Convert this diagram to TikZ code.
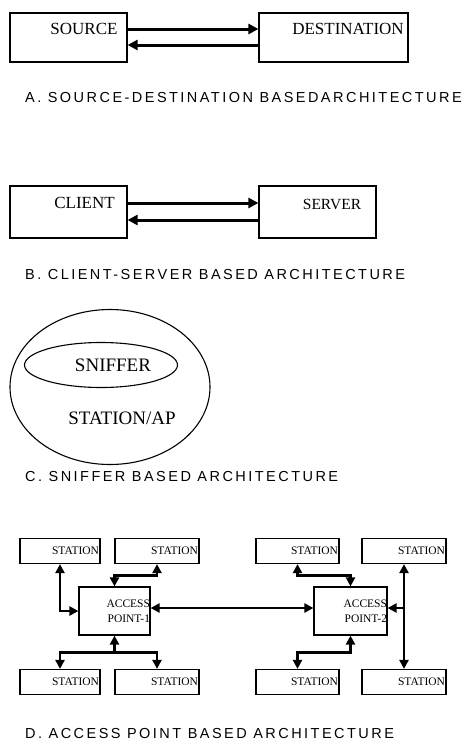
\documentclass[tikz,border=0pt]{standalone}
\usepackage{fontspec}
\setmainfont{Liberation Serif}
\newfontfamily\capfont{Liberation Sans}[LetterSpace=17]
\usetikzlibrary{arrows.meta,shapes.geometric}
\begin{document}
\begin{tikzpicture}[x=1pt,y=-1pt]
        \tikzstyle{every node}=[inner sep=0pt]
        \tikzstyle{box}=[draw, line width=1.2pt, rectangle]
        \tikzstyle{oval}=[draw, line width=1.1pt, ellipse]
        \tikzstyle{big}=[font=\fontsize{17}{19}\selectfont]
        \tikzstyle{huge}=[font=\fontsize{19}{21}\selectfont]
        \tikzstyle{stbox}=[box, font=\fontsize{11.5}{15}\selectfont, align=right, text width=78pt, inner xsep=1pt, minimum height=25pt]
        \tikzstyle{apbox}=[box, font=\fontsize{11.5}{15}\selectfont, align=right, text width=71pt, minimum height=48pt]
        \tikzstyle{caption}=[anchor=west, font=\capfont\fontsize{14.5}{16}\selectfont]
        \tikzstyle{link}=[line width=3pt, -{Triangle[length=10pt,width=10pt]}]
        \tikzstyle{dlink}=[line width=2.8pt, {Triangle[length=9pt,width=9pt]}-{Triangle[length=9pt,width=9pt]}]
        \tikzstyle{tail}=[line width=2.8pt, {Triangle[length=9pt,width=9pt]}-]
        \tikzstyle{head}=[line width=2.8pt, -{Triangle[length=9pt,width=9pt]}]
        \useasboundingbox (0,0) rectangle (470,747);
        % A. source - destination
        \node[box, minimum width=117pt, minimum height=49pt] (src) at (68.5,37.5) {};
        \node[big] (srclbl) at (84,29) {SOURCE};
        \node[box, minimum width=149pt, minimum height=49pt] (dst) at (333.5,37.5) {};
        \node[big] (dstlbl) at (348,29) {DESTINATION};
        \draw[link] ([yshift=8.5pt]src.east) -- ([yshift=8.5pt]dst.west);
        \draw[link] ([yshift=-7.5pt]dst.west) -- ([yshift=-7.5pt]src.east);
        \node[caption] (capa) at (25,98) {A. SOURCE-DESTINATION BASEDARCHITECTURE};
        % B. client - server
        \node[box, minimum width=117pt, minimum height=52pt] (cli) at (68.5,212) {};
        \node[big] (clilbl) at (84.5,203) {CLIENT};
        \node[box, minimum width=117pt, minimum height=52pt] (srv) at (317.5,212) {};
        \node[font=\fontsize{15.5}{18}\selectfont] (srvlbl) at (332,204) {SERVER};
        \draw[link] ([yshift=9pt]cli.east) -- ([yshift=9pt]srv.west);
        \draw[link] ([yshift=-8pt]srv.west) -- ([yshift=-8pt]cli.east);
        \node[caption] (capb) at (25,275) {B. CLIENT-SERVER BASED ARCHITECTURE};
        % C. sniffer
        \node[oval, minimum width=200pt, minimum height=155pt] (sta) at (110,387) {};
        \node[oval, minimum width=153pt, minimum height=45pt] (snf) at (101,365) {};
        \node[huge] (snflbl) at (113,365) {SNIFFER};
        \node[huge] (stalbl) at (122,418) {STATION/AP};
        \node[caption] (capc) at (25,477) {C. SNIFFER BASED ARCHITECTURE};
        % D. access points
        \node[stbox] (st1) at (60,551) {STATION};
        \node[stbox, text width=82pt] (st2) at (157,551) {STATION};
        \node[apbox] (ap1) at (114.5,611) {ACCESS\\POINT-1};
        \node[stbox] (st3) at (60,682) {STATION};
        \node[stbox, text width=82pt] (st4) at (157,682) {STATION};
        \node[stbox, text width=81pt] (st5) at (297.5,551) {STATION};
        \node[stbox, text width=82pt] (st6) at (404,551) {STATION};
        \node[apbox, text width=73pt] (ap2) at (350.5,611) {ACCESS\\POINT-2};
        \node[stbox, text width=81pt] (st7) at (297.5,682) {STATION};
        \node[stbox, text width=82pt] (st8) at (404,682) {STATION};
        \draw[dlink] (st1.south) |- (ap1.west);
        \draw[dlink] (st2.south) -- ++(0,11) -| (ap1.north);
        \draw[tail] (ap1.south) -- ++(0,17) coordinate (j1);
        \draw[head] (j1) -| (st3.north);
        \draw[head] (j1) -| (st4.north);
        \draw[dlink] ([yshift=3pt]ap1.east) -- ([yshift=3pt]ap2.west);
        \draw[dlink] (st5.south) -- ++(0,11) -| (ap2.north);
        \draw[dlink] (st6.south) -- (st8.north);
        \draw[head] ([yshift=3pt]ap2.east -| st6.south) -- ([yshift=3pt]ap2.east);
        \draw[dlink] (ap2.south) -- ++(0,17) -| (st7.north);
        \node[caption] (capd) at (25,733) {D. ACCESS POINT BASED ARCHITECTURE};
\end{tikzpicture}
\end{document}
